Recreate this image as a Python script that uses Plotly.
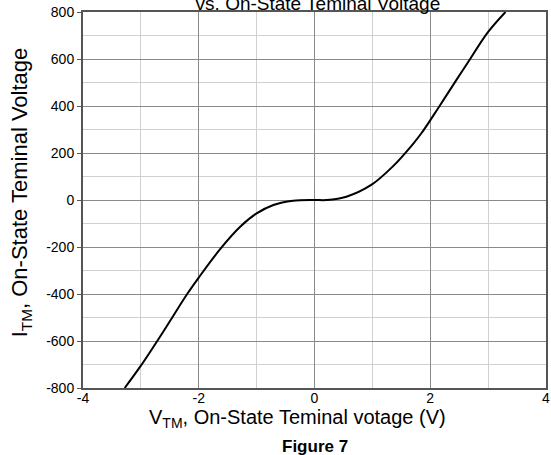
import plotly.graph_objects as go

# Data
v_tm = [-3.28, -3.0, -2.6, -2.2, -2.0, -1.62, -1.28, -1.0, -0.71, -0.37, 0.0,
        0.21, 0.55, 0.98, 1.35, 1.69, 1.85, 2.15, 2.45, 2.65, 3.0, 3.3]
i_tm = [-800, -705, -555, -400, -330, -206, -113, -57, -21, -3, 0,
        0, 14, 64, 142, 235, 285, 396, 510, 585, 715, 800]

x_ticks = [-4, -2, 0, 2, 4]
x_tick_text = ["-4", "-2", "0", "2", "4"]
y_ticks = [-800, -600, -400, -200, 0, 200, 400, 600, 800]
y_tick_text = ["-800", "-600", "-400", "-200", "0", "200", "400", "600", "800"]

title_text = "vs. On-State Teminal Voltage"
x_title = "V<sub>TM</sub>, On-State Teminal votage (V)"
y_title = "I<sub>TM</sub>, On-State Teminal Voltage"
caption = "<b>Figure 7</b>"

font_family = "Liberation Sans, Arial, sans-serif"

fig = go.Figure()
fig.add_trace(go.Scatter(
    x=v_tm, y=i_tm, mode="lines",
    line=dict(color="black", width=2, shape="spline", smoothing=1.0),
    showlegend=False, hoverinfo="skip",
))

fig.update_layout(
    width=551, height=455,
    margin=dict(l=83, r=1, t=12, b=67),
    paper_bgcolor="white", plot_bgcolor="white",
    font=dict(family=font_family, color="black", size=13),
    title=dict(text=title_text, x=0.577, xanchor="center",
               y=0.993, yanchor="middle", yref="container",
               font=dict(size=19, family=font_family, color="black")),
    annotations=[
        dict(text=x_title, xref="paper", yref="paper",
             x=0.463, y=-0.08, xanchor="center", yanchor="middle",
             showarrow=False, borderpad=0,
             font=dict(size=20, family=font_family, color="black")),
        dict(text=y_title, xref="paper", yref="paper", textangle=-90,
             x=-0.132, y=0.52, xanchor="center", yanchor="middle",
             showarrow=False, font=dict(size=22, family=font_family, color="black")),
        dict(text=caption, xref="paper", yref="paper",
             x=0.5, y=-0.125, xanchor="center", yanchor="top",
             showarrow=False, font=dict(size=17, family=font_family, color="black")),
    ],
)

fig.update_xaxes(
    range=[-4, 4], tickvals=x_ticks, ticktext=x_tick_text,
    ticks="", ticklabeloverflow="allow", ticklabelstandoff=-4,
    tickfont=dict(size=14),
    showline=True, linecolor="#555", linewidth=2, mirror=True,
    showgrid=True, gridcolor="#8a8a8a", gridwidth=1,
    minor=dict(dtick=1, showgrid=True, gridcolor="#d0d0d0", gridwidth=1),
    zeroline=False,
)
fig.update_yaxes(
    range=[-800, 800], tickvals=y_ticks, ticktext=y_tick_text,
    ticks="outside", ticklen=4, ticklabeloverflow="allow",
    tickcolor="#555", tickfont=dict(size=14),
    showline=True, linecolor="#555", linewidth=2, mirror=True,
    showgrid=True, gridcolor="#8a8a8a", gridwidth=1,
    minor=dict(dtick=100, showgrid=True, gridcolor="#d0d0d0", gridwidth=1),
    zeroline=False,
)

fig.write_html("out.html", config={"displayModeBar": False},
               post_script="document.body.style.margin='0';document.body.style.overflow='hidden';")
